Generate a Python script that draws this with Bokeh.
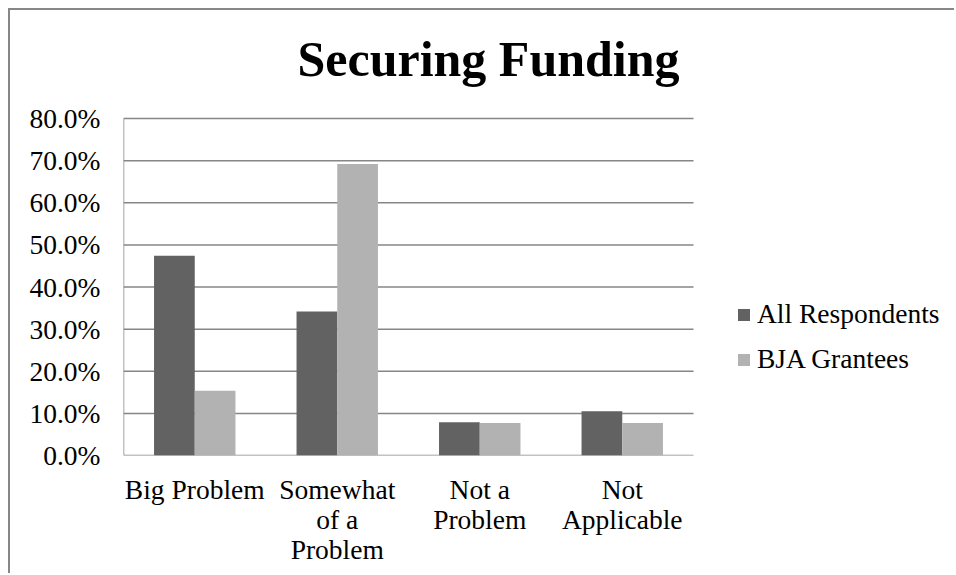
import numpy as np
from bokeh.plotting import figure
from bokeh.models import (ColumnDataSource, Range1d, NumeralTickFormatter, FixedTicker,
                          Legend, LegendItem, Label, LinearAxis, CustomJSTickFormatter)
from bokeh.embed import file_html
from bokeh.resources import INLINE

categories = ["Big Problem", "Somewhat of a Problem", "Not a Problem", "Not Applicable"]
label_line1 = ["Big Problem", "Somewhat", "Not a", "Not"]
label_line2 = ["", "of a", "Problem", "Applicable"]
label_line3 = ["", "Problem", "", ""]
all_respondents = [0.474, 0.342, 0.079, 0.105]
bja_grantees = [0.154, 0.692, 0.077, 0.077]
series_names = ["All Respondents", "BJA Grantees"]
y_ticks = [0.0, 0.1, 0.2, 0.3, 0.4, 0.5, 0.6, 0.7, 0.8]
title_text = "Securing Funding"

FONT = "Liberation Serif"
DARK = "#626262"
LIGHT = "#b2b2b2"
GRID = "#868686"

# layout (pixels, relative to the canvas)
W, H = 946, 565
LEFT, BOTTOM = 113, 120
CAT_PX = 142.5          # width of one category slot
Y_PX = 421.25           # pixels per unit (100%) on the value axis
n = len(categories)
x_end = (W - LEFT) / CAT_PX
y_end = (H - BOTTOM) / Y_PX
y_max = y_ticks[-1]

idx = np.arange(n)
centers = idx + 0.5
bw = 1.0 / 3.5

source = ColumnDataSource(dict(xa=centers - bw / 2, xb=centers + bw / 2,
                               a=all_respondents, b=bja_grantees))

p = figure(width=W, height=H, x_range=Range1d(0, x_end), y_range=Range1d(0, y_end),
           output_backend="svg", toolbar_location=None,
           min_border_left=LEFT, min_border_right=0, min_border_top=0, min_border_bottom=BOTTOM)
p.styles = {"border-top": "2px solid #878787", "border-left": "2px solid #878787",
            "margin-left": "8px", "margin-top": "8px"}
p.outline_line_color = None
p.background_fill_color = "white"
p.border_fill_color = "white"
p.grid.grid_line_color = None

# gridlines and axis lines limited to the plot region
gx0 = [0.0] * len(y_ticks)
gx1 = [float(n)] * len(y_ticks)
p.segment(x0=gx0, y0=y_ticks, x1=gx1, y1=y_ticks, line_color=GRID, line_width=1.5)
p.segment(x0=[0.0], y0=[0.0], x1=[0.0], y1=[y_max], line_color=GRID, line_width=1.5)

r1 = p.vbar(x="xa", top="a", width=bw, source=source, fill_color=DARK, line_color=None)
r2 = p.vbar(x="xb", top="b", width=bw, source=source, fill_color=LIGHT, line_color=None)


def style_axis(ax):
    ax.axis_line_color = None
    ax.major_tick_line_color = None
    ax.minor_tick_line_color = None
    ax.major_tick_out = 0
    ax.major_tick_in = 0
    ax.minor_tick_out = 0
    ax.minor_tick_in = 0
    ax.major_label_text_font = FONT
    ax.major_label_text_font_size = "27.5px"
    ax.major_label_text_color = "black"


def line_formatter(lines):
    return CustomJSTickFormatter(args=dict(m=lines),
                                 code="const s = m[Math.floor(tick)]; return (s === undefined) ? '' : s;")


yax = p.yaxis[0]
style_axis(yax)
yax.ticker = FixedTicker(ticks=y_ticks)
yax.formatter = NumeralTickFormatter(format="0.0%")
yax.major_label_standoff = 23

xax = p.xaxis[0]
style_axis(xax)
xax.ticker = FixedTicker(ticks=list(centers))
xax.formatter = line_formatter(label_line1)
xax.major_label_standoff = 18

for lines in (label_line2, label_line3):
    ax = LinearAxis()
    style_axis(ax)
    ax.ticker = FixedTicker(ticks=list(centers))
    ax.formatter = line_formatter(lines)
    ax.major_label_standoff = -4
    p.add_layout(ax, "below")

legend = Legend(items=[LegendItem(label=series_names[0], renderers=[r1]),
                       LegendItem(label=series_names[1], renderers=[r2])],
                location=(613, 80), orientation="vertical",
                glyph_width=15, glyph_height=15, label_standoff=6,
                label_text_font=FONT, label_text_font_size="27.5px",
                label_text_color="black",
                border_line_color=None, background_fill_alpha=0,
                padding=0, margin=0, spacing=13)
p.add_layout(legend, "center")

p.add_layout(Label(x=(488 - 123) / CAT_PX, y=(455 - 58) / Y_PX, text=title_text,
                   text_font=FONT, text_font_style="bold", text_font_size="50px",
                   text_align="center", text_baseline="alphabetic", text_color="black"))

open("out.html", "w").write(file_html(p, INLINE))
